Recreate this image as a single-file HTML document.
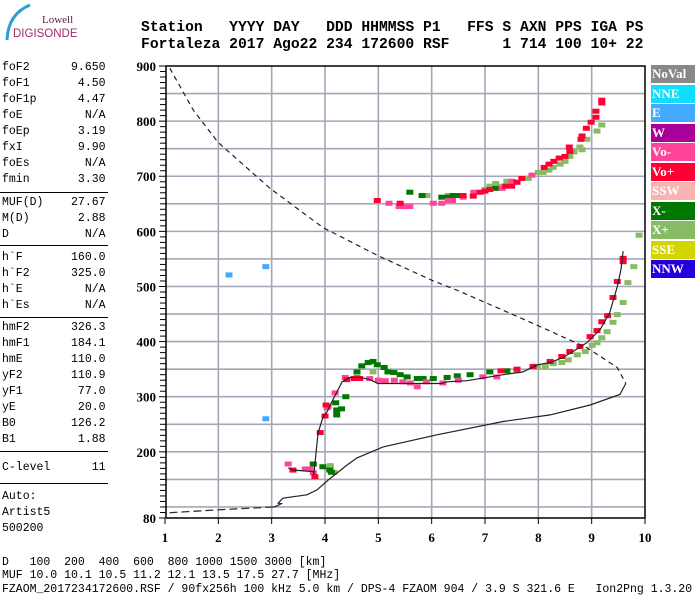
<!DOCTYPE html>
<html><head><meta charset="utf-8">
<style>
body{margin:0;background:#fff;}
#root{position:relative;width:700px;height:600px;overflow:hidden;background:#fff;font-family:"Liberation Mono",monospace;}
.t{position:absolute;white-space:pre;font-size:11.5px;color:#000;line-height:16px;}
.hd{position:absolute;white-space:pre;font-family:"Liberation Mono",monospace;font-weight:bold;font-size:14.7px;line-height:16px;color:#000;}
.hr{position:absolute;left:0;width:108px;height:1px;background:#000;}
.lg{position:absolute;left:651px;width:44px;height:18px;font-family:"Liberation Serif",serif;font-weight:bold;font-size:13px;color:#fff;line-height:18px;padding-left:1px;box-sizing:border-box;}
</style></head><body>
<div id="root">
<svg style="position:absolute;left:0;top:0" width="90" height="45">
<path d="M7,40 Q8,14 30,5" stroke="#2a9fd6" stroke-width="3" fill="none"/>
<text x="42" y="23" font-family="Liberation Serif,serif" font-size="11" fill="#5a2040">Lowell</text>
<text x="13" y="37" font-family="Liberation Sans,sans-serif" font-size="11.5" fill="#a02a68">DIGISONDE</text>
</svg>
<div class="hd" style="left:141px;top:20px">Station   YYYY DAY   DDD HHMMSS P1   FFS S AXN PPS IGA PS</div>
<div class="hd" style="left:141px;top:37px">Fortaleza 2017 Ago22 234 172600 RSF      1 714 100 10+ 22</div>

<div class="t" style="left:2px;top:60px">foF2      9.650
foF1       4.50
foF1p      4.47
foE         N/A
foEp       3.19
fxI        9.90
foEs        N/A
fmin       3.30</div>
<div class="hr" style="top:192px"></div>
<div class="t" style="left:2px;top:195px">MUF(D)    27.67
M(D)       2.88
D           N/A</div>
<div class="hr" style="top:245px"></div>
<div class="t" style="left:2px;top:250px">h`F       160.0
h`F2      325.0
h`E         N/A
h`Es        N/A</div>
<div class="hr" style="top:317px"></div>
<div class="t" style="left:2px;top:320px">hmF2      326.3
hmF1      184.1
hmE       110.0
yF2       110.9
yF1        77.0
yE         20.0
B0        126.2
B1         1.88</div>
<div class="hr" style="top:451px"></div>
<div class="t" style="left:2px;top:460px">C-level      11</div>
<div class="hr" style="top:483px"></div>
<div class="t" style="left:2px;top:489px">Auto:
Artist5
500200</div>

<div class="t" style="left:2px;top:557px;line-height:12px">D   100  200  400  600  800 1000 1500 3000 [km]</div>
<div class="t" style="left:2px;top:570px;line-height:12px">MUF 10.0 10.1 10.5 11.2 12.1 13.5 17.5 27.7 [MHz]</div>
<div class="t" style="left:2px;top:584px;line-height:12px">FZAOM_2017234172600.RSF / 90fx256h 100 kHz 5.0 km / DPS-4 FZAOM 904 / 3.9 S 321.6 E   Ion2Png 1.3.20</div>

<div class="lg" style="top:65px;background:#888">NoVal</div>
<div class="lg" style="top:84.5px;background:#11ddff">NNE</div>
<div class="lg" style="top:104px;background:#44aaff">E</div>
<div class="lg" style="top:123.5px;background:#aa0099">W</div>
<div class="lg" style="top:143px;background:#ff4499">Vo-</div>
<div class="lg" style="top:162.5px;background:#ff0033">Vo+</div>
<div class="lg" style="top:182px;background:#f7b4b0">SSW</div>
<div class="lg" style="top:201.5px;background:#007700">X-</div>
<div class="lg" style="top:221px;background:#88bb66">X+</div>
<div class="lg" style="top:240.5px;background:#d4d400">SSE</div>
<div class="lg" style="top:260px;background:#2200dd">NNW</div>

<svg id="chart" style="position:absolute;left:0;top:0" width="700" height="600"></svg>
</div>
<script>
const freqTicks=[1,2,3,4,5,6,7,8,9,10];
const heightTicks=[80,200,300,400,500,600,700,800,900];
const eLayer=[[2.2,521],[2.89,536],[2.89,260]];
const voPlus=[[3.40,167],[3.81,155],[3.91,235],[4.0,265],[4.02,285],[4.41,331],[4.55,333],[4.65,333],[7.90,355],[8.22,364],[8.44,373],[8.59,382],[8.78,391],[8.97,409],[9.10,420],[9.19,436],[9.30,447],[9.40,480],[9.48,509],[9.59,545],[9.59,551],[7.3,347],[7.6,350],
[4.98,656],[5.41,651],[6.59,665],[6.78,664],[6.91,671],[7.0,673],[7.09,676],[7.39,682],[7.5,682],[7.6,689],[7.69,696],[8.11,716],[8.2,722],[8.29,727],[8.39,733],[8.5,736],[8.59,745],[8.58,753],[8.8,767],[8.82,773],[8.9,787],[8.99,798],[9.08,807],[9.08,818],[9.19,833],[9.19,838]];
const voMinus=[[3.31,178],[3.63,169],[3.72,169],[3.78,162],[4.04,280],[4.06,282],[4.19,307],[4.38,335],[4.6,335],[4.84,333],[5.0,330],[5.13,329],[5.3,330],[5.46,327],[5.6,325],[5.73,318],[5.9,327],[6.21,325],[6.5,330],[6.96,336],[7.22,336],
[5.2,651],[5.39,645],[5.49,645],[5.59,645],[6.03,651],[6.19,651],[6.31,656],[6.39,656],[6.59,662],[6.79,671],[7.32,678],[7.51,691],[7.88,702]];
const xMinus=[[4.69,356],[4.81,362],[4.90,364],[4.98,358],[5.11,353],[5.18,345],[5.29,344],[5.41,340],[5.54,336],[5.73,333],[5.84,333],[6.03,333],[6.29,335],[6.48,338],[6.72,340],[7.09,345],[7.41,347],[4.60,345],
[4.39,300],[4.2,289],[4.22,276],[4.22,267],[4.31,278],[3.78,178],[3.96,173],[4.09,167],[4.12,163],
[5.59,671],[5.82,665],[6.19,662],[6.31,662],[6.4,665],[6.5,665],[7.2,678]];
const xPlus=[[7.98,355],[8.13,355],[8.28,360],[8.44,362],[8.56,367],[8.73,376],[8.88,382],[9.01,393],[9.1,398],[9.19,407],[9.29,418],[9.4,435],[9.48,449],[9.59,471],[9.68,507],[9.79,536],[9.89,593],[4.1,175],[4.17,163],[4.9,345],[7.6,347],
[5.91,665],[6.31,665],[7.0,676],[7.09,682],[7.2,687],[7.3,682],[7.41,691],[7.81,696],[8.0,707],[8.09,707],[8.2,711],[8.28,716],[8.41,722],[8.5,727],[8.59,736],[8.67,744],[8.78,753],[8.82,748],[8.91,767],[9.1,782],[9.19,793]];
const traceF=[3.31,3.40,3.78,3.79,3.87,3.96,4.04,4.15,4.32,4.47,4.66,4.84,4.99,6.19,6.29,6.66,7.34,7.71,7.98,8.22,8.46,8.65,8.91,9.16,9.34,9.48,9.55,9.59];
const traceH=[171,167,164,158,235,262,273,295,327,335,335,331,324,324,327,329,340,345,358,362,371,382,398,422,453,500,531,564];
const topF=[1.09,1.53,1.99,2.97,3.96,4.99,6.01,6.53,7.90,8.91,9.48,9.64];
const topH=[896,820,762,678,607,556,511,491,433,389,353,324];
const botF=[9.64,9.53,8.97,8.22,7.34,6.10,5.09,4.60,4.41,4.06,3.85,3.66,3.21,3.12,3.18,3.1,3.03];
const botH=[324,304,285,267,255,231,209,189,176,149,131,122,116,107,106,102,100];
const lowF=[3.03,2.03,1.0];
const lowH=[100,95,89];

const NS='http://www.w3.org/2000/svg';
const svg=document.getElementById('chart');
const X0=165,X1=645,Y0=518,YT=66;
function fx(f){return X0+(f-1)*(X1-X0)/9;}
function hy(h){return Y0-(h-80)*(Y0-YT)/820;}
function mk(tag,attrs){const e=document.createElementNS(NS,tag);for(const k in attrs)e.setAttribute(k,attrs[k]);svg.appendChild(e);return e;}
for(let h=100;h<900;h+=50){const g=mk('line',{x1:X0,x2:X1,y1:hy(h),y2:hy(h),stroke:'#a4a6b8','stroke-width':1.6});

}
for(let f=2;f<10;f++){const g=mk('line',{x1:fx(f),x2:fx(f),y1:YT,y2:Y0,stroke:'#a4a6b8','stroke-width':1.6});

}
const fr=mk('path',{d:`M${X0+1},${Y0} L${X0+1},${YT} L${X1},${YT} L${X1},${Y0} L${X0+1},${Y0}`,fill:'none',stroke:'#000','stroke-width':1.5});


for(let h=80;h<=900;h+=10){const major=heightTicks.includes(h);const t=mk('line',{x1:major?X0-6:X0-5,x2:X0+1,y1:hy(h),y2:hy(h),stroke:'#000','stroke-width':1});

}
heightTicks.forEach(h=>{const t=mk('text',{x:X0-9,y:hy(h)+5,'text-anchor':'end','font-family':'Liberation Serif,serif','font-weight':'bold','font-size':13});t.textContent=h;

});
freqTicks.forEach(f=>{const l=mk('line',{x1:fx(f),x2:fx(f),y1:Y0,y2:Y0+6,stroke:'#000','stroke-width':1});


const t=mk('text',{x:fx(f),y:Y0+24,'text-anchor':'middle','font-family':'Liberation Serif,serif','font-weight':'bold','font-size':13});t.textContent=f;

});
function echoes(arr,color,name){arr.forEach(p=>{const r=mk('rect',{x:fx(p[0])-3.5,y:hy(p[1])-2.5,width:7,height:5,fill:color});

});}
echoes(eLayer,'#44aaff','echo-e');
echoes(xPlus,'#88bb66','echo-x-plus');
echoes(xMinus,'#007700','echo-x-minus');
echoes(voMinus,'#ff4499','echo-vo-minus');
echoes(voPlus,'#ff0033','echo-vo-plus');
function pts(F,H){return F.map((f,i)=>fx(f).toFixed(1)+','+hy(H[i]).toFixed(1)).join(' ');}
const tr=mk('polyline',{points:pts(traceF,traceH),fill:'none',stroke:'#222','stroke-width':1.2});


const p1=mk('polyline',{points:pts(topF,topH),fill:'none',stroke:'#222','stroke-width':1.2,'stroke-dasharray':'5,4'});


const p2=mk('polyline',{points:pts(botF,botH),fill:'none',stroke:'#222','stroke-width':1.2});


const p3=mk('polyline',{points:pts(lowF,lowH),fill:'none',stroke:'#333','stroke-width':1.3,'stroke-dasharray':'8,4'});


</script>
</body></html>
